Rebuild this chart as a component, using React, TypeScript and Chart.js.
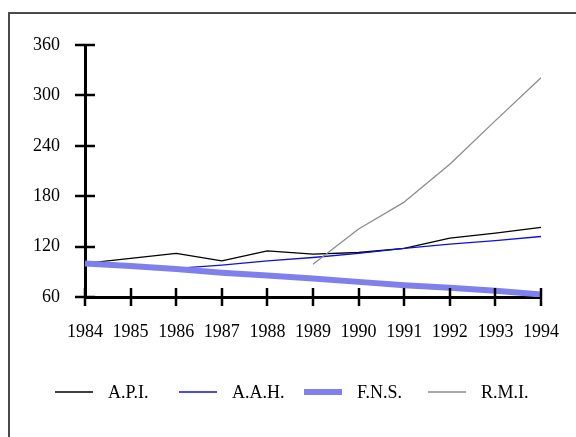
import React, { useEffect, useRef } from "react";
import { Chart, registerables } from "chart.js";

Chart.register(...registerables);

const years = ["1984", "1985", "1986", "1987", "1988", "1989", "1990", "1991", "1992", "1993", "1994"];
const apiValues = [100, 106, 112, 103, 115, 111, 113, 118, 130, 136, 143];
const aahValues = [100, 97, 94, 98, 103, 107, 112, 118, 123, 127, 132];
const fnsValues = [100, 97, 93.3, 89, 85.5, 82, 78, 74, 71, 67.5, 63];
const rmiValues = [null, null, null, null, null, 99, 141, 173, 218, 270, 321];
const yTicks = [60, 120, 180, 240, 300, 360];

const FONT = "'Liberation Serif', 'Times New Roman', serif";
const FONT_SIZE = 18;

const tickMarksPlugin = {
  id: "tickMarks",
  afterDraw(chart: any) {
    const ctx = chart.ctx;
    const xs = chart.scales.x;
    const ys = chart.scales.y;
    const axisX = chart.chartArea.left;
    const axisY = chart.chartArea.bottom;
    ctx.save();
    ctx.strokeStyle = "#000";
    ctx.lineWidth = 2.5;
    ys.ticks.forEach((t: any) => {
      const py = Math.round(ys.getPixelForValue(t.value));
      ctx.beginPath();
      ctx.moveTo(axisX - 10, py);
      ctx.lineTo(axisX + 10, py);
      ctx.stroke();
    });
    xs.ticks.forEach((_t: any, i: number) => {
      const px = Math.round(xs.getPixelForTick(i));
      ctx.beginPath();
      ctx.moveTo(px, axisY - 9);
      ctx.lineTo(px, axisY + 9);
      ctx.stroke();
    });
    ctx.restore();
  },
};

const legendPlugin = {
  id: "customLegend",
  afterDraw(chart: any) {
    const ctx = chart.ctx;
    const startX = 55;
    const step = 124.3;
    const cy = 392;
    ctx.save();
    ctx.font = `${FONT_SIZE}px ${FONT}`;
    ctx.textBaseline = "middle";
    ctx.textAlign = "left";
    chart.data.datasets.forEach((ds: any, i: number) => {
      const x = Math.round(startX + i * step);
      ctx.strokeStyle = ds.borderColor;
      ctx.lineWidth = ds.borderWidth;
      ctx.beginPath();
      ctx.moveTo(x, cy);
      ctx.lineTo(x + 38, cy);
      ctx.stroke();
      ctx.fillStyle = "#000";
      ctx.fillText(ds.label, x + 53, cy + 1);
    });
    ctx.restore();
  },
};

export default function App() {
  const ref = useRef<HTMLCanvasElement | null>(null);

  useEffect(() => {
    if (!ref.current) return;
    const chart = new Chart(ref.current, {
      type: "line",
      data: {
        labels: years,
        datasets: [
          { label: "A.P.I.", data: apiValues, borderColor: "#000000", borderWidth: 1.3, order: 4 },
          { label: "A.A.H.", data: aahValues, borderColor: "#1010d8", borderWidth: 1.3, order: 3 },
          { label: "F.N.S.", data: fnsValues, borderColor: "#8080ec", borderWidth: 6, order: 2 },
          { label: "R.M.I.", data: rmiValues, borderColor: "#8c8c8c", borderWidth: 1.3, order: 1 },
        ] as any,
      },
      options: {
        animation: false,
        responsive: true,
        maintainAspectRatio: false,
        layout: { padding: { top: 45, right: 35, bottom: 0, left: 0 } },
        elements: {
          point: { radius: 0, hoverRadius: 0 },
          line: { tension: 0, borderCapStyle: "butt", borderJoinStyle: "round" },
        },
        plugins: {
          legend: { display: false },
          tooltip: { enabled: false },
          title: { display: false },
        },
        scales: {
          x: {
            type: "category",
            offset: false,
            grid: { display: true, drawOnChartArea: false, drawTicks: false },
            border: { display: true, color: "#000", width: 3 },
            ticks: {
              color: "#000",
              font: { family: FONT, size: FONT_SIZE },
              padding: 24,
              autoSkip: false,
              maxRotation: 0,
            },
            afterFit: (s: any) => {
              s.height = 140;
              s.paddingLeft = 0;
              s.paddingRight = 0;
            },
          },
          y: {
            min: 60,
            max: 360,
            afterBuildTicks: (s: any) => {
              s.ticks = yTicks.map((v) => ({ value: v }));
            },
            grid: { display: true, drawOnChartArea: false, drawTicks: false },
            border: { display: true, color: "#000", width: 3 },
            ticks: {
              color: "#000",
              font: { family: FONT, size: FONT_SIZE },
              padding: 25,
            },
            afterFit: (s: any) => {
              s.width = 85;
              s.paddingTop = 0;
              s.paddingBottom = 0;
            },
          },
        },
      },
      plugins: [tickMarksPlugin, legendPlugin],
    });
    return () => chart.destroy();
  }, []);

  return (
    <div
      style={{
        position: "fixed",
        left: 0,
        top: 0,
        width: 576,
        height: 437,
        overflow: "hidden",
        background: "#fff",
      }}
    >
      <div
        style={{
          position: "absolute",
          left: 8,
          top: 12,
          width: 640,
          height: 500,
          border: "2px solid #4a4a4a",
        }}
      />
      <div style={{ position: "absolute", left: 0, top: 0, width: 576, height: 437 }}>
        <canvas ref={ref} />
      </div>
    </div>
  );
}
